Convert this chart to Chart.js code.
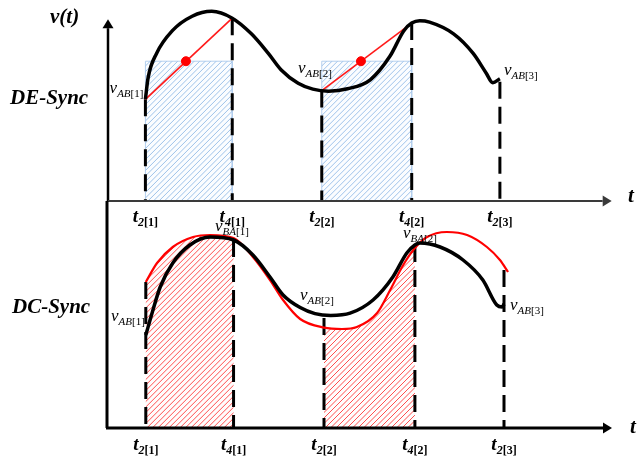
<!DOCTYPE html>
<html>
<head>
<meta charset="utf-8">
<script src="https://cdn.jsdelivr.net/npm/chart.js@4.4.1/dist/chart.umd.min.js"></script>
<style>
  html, body { margin: 0; padding: 0; background: #fff; }
  #wrap { position: relative; width: 639px; height: 456px; }
  #wrap canvas { position: absolute; left: 0; top: 0; }
</style>
</head>
<body>
<div id="wrap">
  <canvas id="deSync" width="639" height="456"></canvas>
  <canvas id="dcSync" width="639" height="456"></canvas>
</div>
<script>
// switching instants shared by both panels
const tickNames = ['2[1]', '4[1]', '2[2]', '4[2]', '2[3]'];
const tickTimes = [0.84, 2.79, 4.8, 6.82, 8.8];

// DE-Sync panel: v_AB(t)
const deTimes  = [0.84, 0.9, 1.09, 1.44, 1.89, 2.33, 2.79, 3.22, 3.6, 3.89, 4.27, 4.6, 4.95, 5.38, 5.89, 6.33, 6.64, 6.82, 7.0, 7.22, 7.76, 8.2, 8.49, 8.64, 8.8];
const deValues = [5.2, 6.3, 7.55, 8.7, 9.45, 9.7, 9.35, 8.55, 7.55, 6.7, 6.02, 5.72, 5.62, 5.74, 6.2, 7.4, 8.7, 9.1, 9.22, 9.15, 8.55, 7.55, 6.55, 6.05, 6.25];
// chord ends and the averaged level over each window
const deChordStart = [5.2, 5.65];
const deChordEnd   = [9.35, 9.1];
const deAverage    = [7.15, 7.15];
const deDotTimes   = [1.75, 5.68];
const deDashTop    = [5.2, 9.35, 5.65, 9.1, 6.1];

// DC-Sync panel: v_AB(t) and v_BA(t)
const dcAbTimes  = [0.84, 0.98, 1.16, 1.44, 1.82, 2.27, 2.79, 3.22, 3.6, 3.89, 4.27, 4.6, 4.95, 5.38, 5.89, 6.33, 6.64, 6.82, 6.93, 7.38, 7.89, 8.33, 8.64, 8.76, 8.8];
const dcAbValues = [4.65, 5.75, 7.05, 8.25, 9.15, 9.55, 9.4, 8.65, 7.55, 6.65, 6.02, 5.72, 5.63, 5.74, 6.4, 7.55, 8.75, 9.15, 9.25, 9.05, 8.4, 7.4, 6.15, 6.05, 6.2];
const dcBaTimes  = [0.84, 1.09, 1.44, 1.89, 2.27, 2.79, 3.22, 3.6, 3.89, 4.27, 4.8, 5.2, 5.53, 5.98, 6.27, 6.56, 6.82, 7.09, 7.53, 7.98, 8.42, 8.71, 8.89];
const dcBaValues = [7.3, 8.25, 9.05, 9.55, 9.65, 9.5, 8.55, 7.4, 6.4, 5.45, 5.02, 4.95, 5.05, 5.75, 6.9, 8.15, 9.0, 9.55, 9.8, 9.65, 9.05, 8.4, 7.8];
const dcDashTop  = [7.3, 9.4, 5.5, 9.15, 7.9];

const windowStart = [tickTimes[0], tickTimes[2]];
const windowEnd   = [tickTimes[1], tickTimes[3]];

const SERIF = '"Liberation Serif", "Times New Roman", serif';

const pts = (ts, vs) => ts.map((t, i) => ({ x: t, y: vs[i] }));

function dashLines(tops) {
  return tickTimes.map((t, i) => ({
    data: [{ x: t, y: tops[i] }, { x: t, y: 0 }],
    borderColor: '#000', borderWidth: 3, borderDash: [17, 8],
    pointRadius: 0, order: 5
  }));
}

// "/" hatching inside a filled dataset's own outline (dataset.hatch = line colour)
const hatchPlugin = {
  id: 'hatch',
  afterDatasetDraw(chart, args) {
    const ds = chart.data.datasets[args.index];
    if (!ds.hatch) return;
    const meta = args.meta, p = meta.data;
    const ctx = chart.ctx;
    const base = chart.scales.y.getPixelForValue(0);
    ctx.save();
    ctx.beginPath();
    meta.dataset.path(ctx);
    ctx.lineTo(p[p.length - 1].x, base);
    ctx.lineTo(p[0].x, base);
    ctx.closePath();
    ctx.clip();
    const x0 = p[0].x, x1 = p[p.length - 1].x, h = base;
    ctx.strokeStyle = ds.hatch;
    ctx.lineWidth = 1;
    ctx.beginPath();
    for (let k = x0 - h; k < x1 + 6; k += 5.5) {
      ctx.moveTo(k, base);
      ctx.lineTo(k + h, 0);
    }
    ctx.stroke();
    ctx.restore();
  }
};

// text with subscripts, each part carrying its own font
function writeParts(ctx, x, y, parts, align) {
  let w = 0;
  parts.forEach(p => { ctx.font = p.font; w += ctx.measureText(p.text).width; });
  let cx = align === 'right' ? x - w : align === 'center' ? x - w / 2 : x;
  parts.forEach(p => {
    ctx.font = p.font;
    ctx.fillText(p.text, cx, y + (p.dy || 0));
    cx += ctx.measureText(p.text).width;
  });
}
const tLabel = name => [
  { text: 't', font: `bold italic 19px ${SERIF}` },
  { text: name[0], font: `bold italic 12px ${SERIF}`, dy: 4 },
  { text: name.slice(1), font: `bold 12px ${SERIF}`, dy: 4 }
];
const vLabel = (sub, idx) => [
  { text: 'v', font: `italic 17px ${SERIF}` },
  { text: sub, font: `italic 11px ${SERIF}`, dy: 4 },
  { text: '[' + idx + ']', font: `11px ${SERIF}`, dy: 4 }
];

function arrow(ctx, x0, y0, x1, y1, width, color) {
  const ang = Math.atan2(y1 - y0, x1 - x0);
  const len = 9, half = 5.5;
  ctx.strokeStyle = color; ctx.fillStyle = color; ctx.lineWidth = width;
  ctx.beginPath();
  ctx.moveTo(x0, y0);
  ctx.lineTo(x1 - Math.cos(ang) * len, y1 - Math.sin(ang) * len);
  ctx.stroke();
  ctx.beginPath();
  ctx.moveTo(x1, y1);
  ctx.lineTo(x1 - Math.cos(ang) * len - Math.sin(ang) * half, y1 - Math.sin(ang) * len + Math.cos(ang) * half);
  ctx.lineTo(x1 - Math.cos(ang) * len + Math.sin(ang) * half, y1 - Math.sin(ang) * len - Math.cos(ang) * half);
  ctx.closePath();
  ctx.fill();
}

function makeChart(id, padding, yMax, datasets, decorate) {
  return new Chart(document.getElementById(id), {
    type: 'line',
    data: { datasets },
    options: {
      responsive: false,
      animation: false,
      devicePixelRatio: 1,
      events: [],
      layout: { padding },
      scales: {
        x: { type: 'linear', min: 0, max: 11.8, display: false },
        y: { min: 0, max: yMax, display: false }
      },
      elements: { point: { radius: 0 } },
      plugins: { legend: { display: false }, tooltip: { enabled: false } }
    },
    plugins: [hatchPlugin, {
      id: 'decor',
      afterDraw(chart) {
        const ctx = chart.ctx;
        const sx = chart.scales.x, sy = chart.scales.y;
        ctx.save();
        ctx.textBaseline = 'alphabetic';
        ctx.fillStyle = '#000';
        decorate(ctx, v => sx.getPixelForValue(v), v => sy.getPixelForValue(v));
        ctx.restore();
      }
    }]
  });
}

// ---------- DE-Sync ----------
const deSets = [
  { data: pts(deTimes, deValues), borderColor: '#000', borderWidth: 3.5,
    cubicInterpolationMode: 'monotone', pointRadius: 0, order: 1, clip: false },
  { data: deDotTimes.map((t, i) => ({ x: t, y: deAverage[i] })), showLine: false,
    pointRadius: 4.5, pointBackgroundColor: '#ff0000', pointBorderColor: '#ff0000', order: 0 },
  ...windowStart.map((a, i) => ({
    data: [{ x: a, y: deChordStart[i] }, { x: windowEnd[i], y: deChordEnd[i] }],
    borderColor: '#ff1a1a', borderWidth: 1.6, pointRadius: 0, order: 2
  })),
  ...dashLines(deDashTop),
  ...windowStart.map((a, i) => ({
    data: [{ x: a, y: 0 }, { x: a, y: deAverage[i] }, { x: windowEnd[i], y: deAverage[i] }, { x: windowEnd[i], y: 0 }],
    borderColor: '#b4cfee', borderWidth: 1, backgroundColor: '#fbfdff', fill: 'origin',
    hatch: '#9ec2ea', pointRadius: 0, order: 8
  }))
];

makeChart('deSync', { left: 108, right: 0, top: 1, bottom: 255 }, 10, deSets, (ctx, X, Y) => {
  arrow(ctx, X(0), Y(0), X(0), Y(9.3), 2.5, '#000');
  arrow(ctx, X(0), Y(0), X(11.31), Y(0), 2.2, '#3a3a3a');
  ctx.fillStyle = '#000';
  tickTimes.forEach((t, i) => writeParts(ctx, X(t), Y(0) + 21, tLabel(tickNames[i]), 'center'));
  ctx.font = `bold italic 21px ${SERIF}`;
  ctx.fillText('t', 628, 202);
  ctx.fillText('v(t)', 50, 23);
  ctx.fillText('DE-Sync', 10, 104);
  writeParts(ctx, X(tickTimes[0]) - 2, 93, vLabel('AB', 1), 'right');
  writeParts(ctx, 298, 73, vLabel('AB', 2), 'left');
  writeParts(ctx, X(tickTimes[4]) + 4, 75, vLabel('AB', 3), 'left');
});

// ---------- DC-Sync ----------
const baPoints = pts(dcBaTimes, dcBaValues);
const dcSets = [
  { data: pts(dcAbTimes, dcAbValues), borderColor: '#000', borderWidth: 3.5,
    cubicInterpolationMode: 'monotone', pointRadius: 0, order: 0, clip: false },
  { data: baPoints, borderColor: '#ff0000', borderWidth: 2.2,
    cubicInterpolationMode: 'monotone', pointRadius: 0, order: 1, clip: false },
  ...dashLines(dcDashTop),
  ...windowStart.map((a, i) => ({
    data: baPoints.filter(p => p.x >= a && p.x <= windowEnd[i]),
    borderWidth: 0, borderColor: 'rgba(0,0,0,0)', backgroundColor: '#fffcfc', fill: 'origin',
    hatch: '#ff4d4d', cubicInterpolationMode: 'monotone', pointRadius: 0, order: 8
  }))
];

makeChart('dcSync', { left: 108, right: 0, top: 201, bottom: 28 }, 11.35, dcSets, (ctx, X, Y) => {
  ctx.strokeStyle = '#000';
  ctx.lineWidth = 3;
  ctx.beginPath();
  ctx.moveTo(X(0) - 1, Y(0));
  ctx.lineTo(X(0) - 1, 201);
  ctx.stroke();
  arrow(ctx, X(0) - 2, Y(0), X(11.2), Y(0), 3, '#000');
  ctx.fillStyle = '#000';
  tickTimes.forEach((t, i) => writeParts(ctx, X(t), Y(0) + 22, tLabel(tickNames[i]), 'center'));
  ctx.font = `bold italic 21px ${SERIF}`;
  ctx.fillText('t', 630, 433);
  ctx.fillText('DC-Sync', 12, 313);
  writeParts(ctx, X(tickTimes[0]) - 1, 321, vLabel('AB', 1), 'right');
  writeParts(ctx, 215, 231, vLabel('BA', 1), 'left');
  writeParts(ctx, 300, 300, vLabel('AB', 2), 'left');
  writeParts(ctx, 403, 238, vLabel('BA', 2), 'left');
  writeParts(ctx, X(tickTimes[4]) + 6, 310, vLabel('AB', 3), 'left');
});
</script>
</body>
</html>
